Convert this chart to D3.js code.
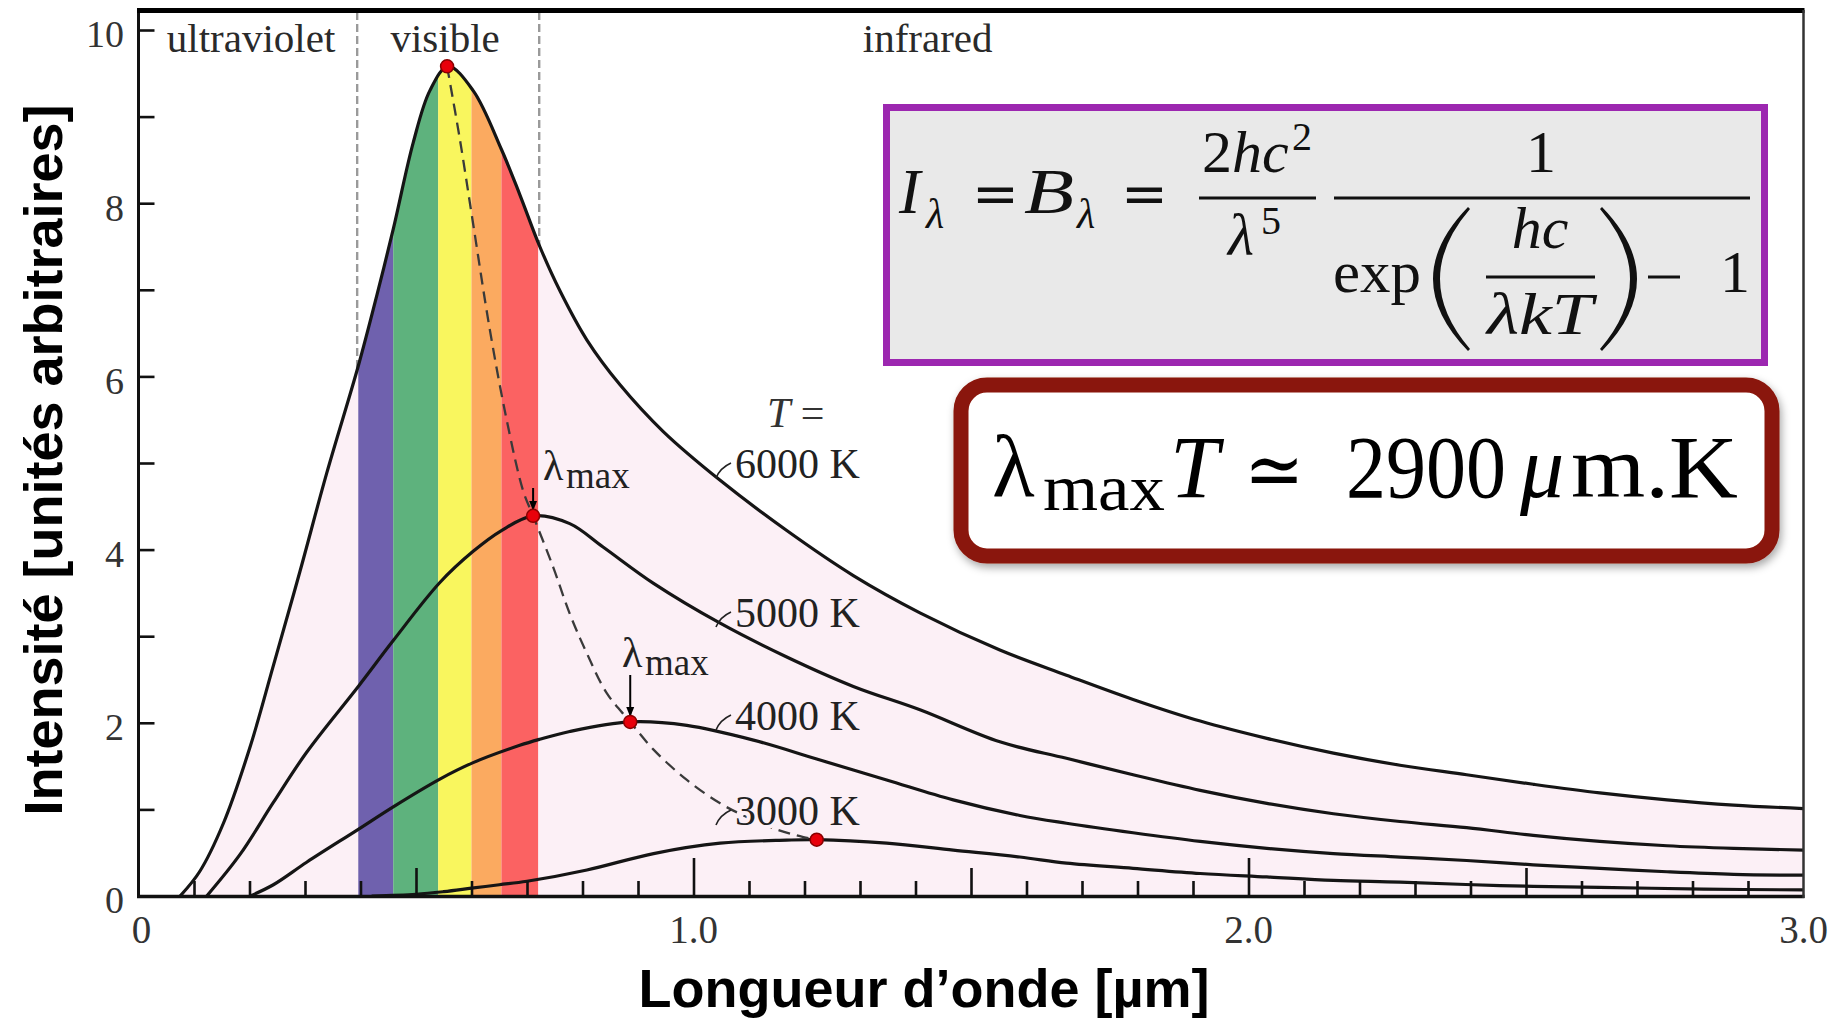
<!DOCTYPE html>
<html><head><meta charset="utf-8">
<script src="https://cdn.jsdelivr.net/npm/d3@7/dist/d3.min.js"></script>
<style>
html,body{margin:0;padding:0;background:#fff;}
svg{display:block;}
</style></head><body>
<svg id="chart" width="1829" height="1021"></svg>
<script>
// ---------------- data ----------------
const temps = [6000, 5000, 4000, 3000];
const curveLabels = ["6000 K", "5000 K", "4000 K", "3000 K"];

const wl6000 = [0.075,0.110,0.153,0.201,0.243,0.291,0.339,0.396,0.430,0.459,0.495,0.525,0.558,0.603,0.654,0.687,0.723,0.760,0.808,0.868,0.946,1.048,1.168,1.288,1.408,1.552,1.672,1.792,1.913,2.033,2.153,2.273,2.393,2.513,2.633,2.754,2.874,3.0];
const in6000 = [0,0.28,0.84,1.72,2.66,3.75,4.88,6.12,6.95,7.70,8.70,9.30,9.58,9.30,8.62,8.10,7.50,6.98,6.42,5.90,5.36,4.80,4.22,3.70,3.27,2.84,2.55,2.27,2.02,1.82,1.65,1.51,1.40,1.29,1.19,1.11,1.05,1.01];

const wl5000 = [0.123,0.183,0.243,0.303,0.396,0.459,0.543,0.603,0.654,0.711,0.777,0.837,0.928,1.048,1.168,1.288,1.408,1.552,1.672,1.792,1.913,2.033,2.153,2.273,2.393,2.513,2.633,2.754,2.874,3.0];
const in5000 = [0,0.48,1.08,1.66,2.42,2.95,3.62,3.98,4.22,4.39,4.30,4.03,3.61,3.15,2.76,2.42,2.15,1.78,1.59,1.40,1.22,1.07,0.95,0.86,0.79,0.70,0.63,0.58,0.55,0.53];

const wl4000 = [0.201,0.243,0.303,0.396,0.459,0.543,0.603,0.687,0.723,0.777,0.886,0.988,1.108,1.228,1.348,1.468,1.588,1.672,1.792,1.913,2.033,2.153,2.273,2.393,2.513,2.633,2.754,2.874,3.0];
const in4000 = [0,0.13,0.39,0.77,1.03,1.35,1.54,1.74,1.81,1.90,2.01,1.97,1.80,1.57,1.34,1.11,0.93,0.84,0.73,0.63,0.55,0.49,0.45,0.41,0.36,0.32,0.28,0.25,0.24];

const wl3000 = [0.42,0.50,0.55,0.60,0.65,0.70,0.808,0.928,1.048,1.168,1.222,1.348,1.468,1.588,1.672,1.792,1.913,2.033,2.153,2.273,2.453,2.633,2.820,3.0];
const in3000 = [0,0.02,0.05,0.09,0.13,0.17,0.30,0.49,0.61,0.645,0.65,0.61,0.53,0.45,0.38,0.32,0.26,0.22,0.18,0.16,0.12,0.10,0.08,0.07];

const peakWl = [0.556, 0.711, 0.886, 1.222];
const peakIn = [9.58, 4.39, 2.01, 0.65];

// Wien displacement (dashed) path through the maxima
const wienWl = [0.556,0.579,0.603,0.633,0.663,0.693,0.711,0.747,0.777,0.808,0.844,0.886,0.928,0.988,1.048,1.090,1.149,1.198,1.222];
const wienIn = [9.58,8.74,7.76,6.54,5.51,4.68,4.39,3.80,3.26,2.80,2.34,2.01,1.69,1.34,1.07,0.93,0.77,0.68,0.65];

// visible spectrum colour bands
const bandStart = [0.396, 0.459, 0.540, 0.600, 0.654];
const bandEnd   = [0.459, 0.540, 0.600, 0.654, 0.720];
const regionNames = ["ultraviolet", "visible", "infrared"];
const regionBounds = [0.394, 0.722];

const xTickValues = [0, 1, 2, 3];
const xTickLabels = ["0", "1.0", "2.0", "3.0"];
const yTickValues = [0, 2, 4, 6, 8, 10];
const yTickLabels = ["0", "2", "4", "6", "8", "10"];

// ---------------- styles ----------------
const bandColors = ["#6f61ae", "#5eb27d", "#f9f65e", "#fbaa60", "#fb6262"];
const pink = "#fcf0f6";
const SERIF = "'Liberation Serif','Times New Roman',serif";
const SANS = "'Liberation Sans',Arial,sans-serif";
const ink = "#151515";

// ---------------- drawing ----------------
const svg = d3.select("#chart");
svg.append("rect").attr("width",1829).attr("height",1021).attr("fill","#fff");

const x = d3.scaleLinear().domain([0,3]).range([138.5,1803.5]);
const y = d3.scaleLinear().domain([0,10]).range([896,30]);

const series = [
  d3.zip(wl6000, in6000), d3.zip(wl5000, in5000),
  d3.zip(wl4000, in4000), d3.zip(wl3000, in3000)
];
const smooth = d3.curveCatmullRom.alpha(0.5);
const line = d3.line().x(d=>x(d[0])).y(d=>y(d[1])).curve(smooth);
const area = d3.area().x(d=>x(d[0])).y0(y(0)).y1(d=>y(d[1])).curve(smooth);

const defs = svg.append("defs");
defs.append("clipPath").attr("id","under6000").append("path").attr("d", area(series[0]));
defs.append("clipPath").attr("id","plotArea").append("rect")
  .attr("x",x(0)).attr("y",10).attr("width",x(3)-x(0)).attr("height",y(0)-10);
defs.append("marker").attr("id","arr").attr("viewBox","0 0 10 10").attr("refX",9).attr("refY",5)
  .attr("markerWidth",5).attr("markerHeight",5).attr("markerUnits","strokeWidth").attr("orient","auto")
  .append("path").attr("d","M0,1 L10,5 L0,9 Z").attr("fill","#000");
const f = defs.append("filter").attr("id","shadow").attr("x","-10%").attr("y","-10%").attr("width","120%").attr("height","130%");
f.append("feDropShadow").attr("dx",2).attr("dy",4).attr("stdDeviation",4).attr("flood-color","#000").attr("flood-opacity",0.35);

const plot = svg.append("g").attr("clip-path","url(#plotArea)");

// region separators (dashed)
plot.selectAll("line.sep").data(regionBounds).join("line")
  .attr("x1",d=>x(d)).attr("x2",d=>x(d)).attr("y1",12).attr("y2",y(0))
  .attr("stroke","#9a9a9a").attr("stroke-width",2.4).attr("stroke-dasharray","8,4");

// pink area under 6000 K
plot.append("path").attr("d", area(series[0])).attr("fill", pink);

// spectrum bands
plot.append("g").attr("clip-path","url(#under6000)")
  .selectAll("rect").data(bandStart).join("rect")
  .attr("x",(d)=>x(d)).attr("width",(d,i)=>x(bandEnd[i])-x(d))
  .attr("y",0).attr("height",y(0)).attr("fill",(d,i)=>bandColors[i]);

// region labels
const regionX = [0.051, 0.454, 1.305];
plot.selectAll("text.region").data(regionNames).join("text")
  .attr("x",(d,i)=>x(regionX[i])).attr("y",52)
  .attr("font-family",SERIF).attr("font-size",41).attr("fill","#2a2a2a").text(d=>d);

// curves
plot.selectAll("path.curve").data(series).join("path")
  .attr("d", line).attr("fill","none").attr("stroke", ink).attr("stroke-width",3.2);

// Wien dashed path
plot.append("path").attr("d", line(d3.zip(wienWl, wienIn)))
  .attr("fill","none").attr("stroke","#3a3a3a").attr("stroke-width",2.3).attr("stroke-dasharray","12,7");

// curve labels with leaders
const labelBase = [478, 627, 730, 825];
const lblG = plot.append("g");
lblG.selectAll("text").data(curveLabels).join("text")
  .attr("x", 735).attr("y",(d,i)=>labelBase[i])
  .attr("font-family",SERIF).attr("font-size",42).attr("fill","#222")
  .attr("stroke",(d,i)=>i===3?pink:"none").attr("stroke-width",8).attr("paint-order","stroke")
  .text(d=>d);
lblG.selectAll("path").data(labelBase).join("path")
  .attr("d",d=>`M716,${d} Q720,${d-10} 731,${d-15}`)
  .attr("fill","none").attr("stroke","#222").attr("stroke-width",1.6);
// "T ="
const tEq = plot.append("text").attr("x",767).attr("y",427).attr("font-family",SERIF).attr("font-size",42).attr("fill","#333");
tEq.append("tspan").attr("font-style","italic").text("T");
tEq.append("tspan").text(" =");

// λmax labels and arrows
[[1, 543, 480], [2, 622, 667]].forEach(([k, lx, ly]) => {
  const t = plot.append("text").attr("font-family",SERIF).attr("fill","#222");
  t.append("tspan").attr("x",lx).attr("y",ly).attr("font-size",42).text("λ");
  t.append("tspan").attr("x",lx+23).attr("y",ly+8).attr("font-size",37).text("max");
  plot.append("line").attr("x1",x(peakWl[k])).attr("x2",x(peakWl[k]))
    .attr("y1", ly+8).attr("y2", y(peakIn[k]) - 6)
    .attr("stroke","#000").attr("stroke-width",2).attr("marker-end","url(#arr)");
});

// maxima dots
plot.selectAll("circle").data(peakWl).join("circle")
  .attr("cx",d=>x(d)).attr("cy",(d,i)=>y(peakIn[i])).attr("r",6.5)
  .attr("fill","#e8000b").attr("stroke","#8a0000").attr("stroke-width",1.5);

// ---------------- axes ----------------
const minorX = d3.range(1,30).filter(i=>i%5!==0).map(i=>i/10);
const halfX = [0.5,1.5,2.5], majX = [1,2];
[[minorX,15],[halfX,28],[majX,38]].forEach(([vals,len])=>{
  const g = svg.append("g").attr("transform",`translate(0,${y(0)})`)
    .call(d3.axisBottom(x).tickValues(vals).tickSize(-len).tickFormat(""));
  g.select(".domain").remove();
  g.selectAll("line").attr("stroke","#111").attr("stroke-width",2.6);
});
const gy = svg.append("g").attr("transform",`translate(${x(0)},0)`)
  .call(d3.axisLeft(y).tickValues(d3.range(1,11)).tickSize(-16).tickFormat(""));
gy.select(".domain").remove();
gy.selectAll("line").attr("stroke","#111").attr("stroke-width",2.6);

// frame
svg.append("line").attr("x1",x(0)).attr("x2",x(0)).attr("y1",10).attr("y2",898).attr("stroke","#111").attr("stroke-width",3);
svg.append("line").attr("x1",x(0)-1.5).attr("x2",x(3)+1).attr("y1",y(0)+0.5).attr("y2",y(0)+0.5).attr("stroke","#111").attr("stroke-width",3.5);
svg.append("line").attr("x1",x(0)-1.5).attr("x2",x(3)+1).attr("y1",10.5).attr("y2",10.5).attr("stroke","#000").attr("stroke-width",5);
svg.append("line").attr("x1",x(3)).attr("x2",x(3)).attr("y1",10).attr("y2",898).attr("stroke","#333").attr("stroke-width",2.5);

// tick labels
svg.selectAll("text.xt").data(xTickValues).join("text")
  .attr("x",d=>x(d)+ (d===0?3:0)).attr("y",943).attr("text-anchor","middle")
  .attr("font-family",SERIF).attr("font-size",39).attr("fill","#333").text((d,i)=>xTickLabels[i]);
svg.selectAll("text.yt").data(yTickValues).join("text")
  .attr("x",124).attr("y",d=>y(d)+4).attr("dy","0.35em").attr("text-anchor","end")
  .attr("font-family",SERIF).attr("font-size",38).attr("fill","#333").text((d,i)=>yTickLabels[i]);

// axis titles
svg.append("text").attr("x",924).attr("y",1007).attr("text-anchor","middle")
  .attr("font-family",SANS).attr("font-weight","bold").attr("font-size",54).attr("fill","#000")
  .text("Longueur d’onde [µm]");
svg.append("text").attr("transform","translate(62,460) rotate(-90)").attr("text-anchor","middle")
  .attr("font-family",SANS).attr("font-weight","bold").attr("font-size",54).attr("fill","#000")
  .text("Intensité [unités arbitraires]");

// ---------------- Planck formula box ----------------
const fb = svg.append("g");
fb.append("rect").attr("x",886.5).attr("y",107.5).attr("width",878).attr("height",255)
  .attr("fill","#e9e9e9").attr("stroke","#9c27b0").attr("stroke-width",7);
function ft(txt, tx, ty, opt={}) {
  const t = fb.append("text").attr("x",tx).attr("y",ty)
    .attr("font-family", opt.family || SERIF).attr("font-size", opt.size || 58)
    .attr("font-style", opt.italic ? "italic" : "normal")
    .attr("text-anchor", opt.anchor || "start").attr("fill","#111").text(txt);
  if (opt.len) t.attr("textLength", opt.len).attr("lengthAdjust","spacingAndGlyphs");
  return t;
}
ft("I", 899, 213, {italic:true, size:64});
ft("λ", 926, 228, {italic:true, size:42});
ft("=", 972, 213, {family:"'DejaVu Serif',serif", size:56});
ft("B", 1024, 213, {italic:true, size:64, len:50});
ft("λ", 1077, 228, {italic:true, size:42});
ft("=", 1121, 213, {family:"'DejaVu Serif',serif", size:56});
const num = fb.append("text").attr("x",1202).attr("y",172).attr("font-family",SERIF).attr("font-size",60).attr("fill","#111");
num.append("tspan").text("2"); num.append("tspan").attr("font-style","italic").text("hc");
ft("2", 1292, 150, {size:40});
fb.append("line").attr("x1",1199).attr("x2",1316).attr("y1",198).attr("y2",198).attr("stroke","#111").attr("stroke-width",3);
ft("λ", 1228, 255, {italic:true, size:60});
ft("5", 1261, 234, {size:40});
fb.append("line").attr("x1",1334).attr("x2",1750).attr("y1",198).attr("y2",198).attr("stroke","#111").attr("stroke-width",3);
ft("1", 1541, 172, {anchor:"middle", size:60});
ft("exp", 1333, 292, {size:60, len:88});
fb.append("path").attr("d","M1468,207 Q1398,279 1468,351 L1470,349 Q1410,279 1470,209 Z").attr("fill","#111");
fb.append("path").attr("d","M1602,207 Q1672,279 1602,351 L1600,349 Q1660,279 1600,209 Z").attr("fill","#111");
ft("hc", 1540, 248, {italic:true, anchor:"middle", size:60});
fb.append("line").attr("x1",1486).attr("x2",1595).attr("y1",277).attr("y2",277).attr("stroke","#111").attr("stroke-width",3);
ft("λkT", 1540, 334, {italic:true, anchor:"middle", size:60, len:106});
fb.append("line").attr("x1",1648).attr("x2",1680).attr("y1",277).attr("y2",277).attr("stroke","#111").attr("stroke-width",3);
ft("1", 1720, 292, {size:60});

// ---------------- Wien law box ----------------
const wb = svg.append("g");
wb.append("rect").attr("x",961).attr("y",385).attr("width",811).attr("height",171).attr("rx",26)
  .attr("fill","#fff").attr("stroke","#8a1508").attr("stroke-width",15).attr("filter","url(#shadow)");
function wt(txt, tx, ty, opt={}) {
  const t = wb.append("text").attr("x",tx).attr("y",ty)
    .attr("font-family", opt.family || SERIF).attr("font-size", opt.size || 88)
    .attr("font-style", opt.italic ? "italic" : "normal").attr("fill","#000").text(txt);
  if (opt.len) t.attr("textLength", opt.len).attr("lengthAdjust","spacingAndGlyphs");
  return t;
}
wt("λ", 992, 497);
wt("max", 1043, 510, {size:66, len:122});
wt("T", 1170, 497, {italic:true});
wt("≃", 1244, 497, {family:"'DejaVu Serif',serif", size:80, len:60});
wt("2900", 1346, 497, {len:160});
wt("μ", 1520, 497, {italic:true});
wt("m.K", 1571, 497, {len:167});
</script>
</body></html>
